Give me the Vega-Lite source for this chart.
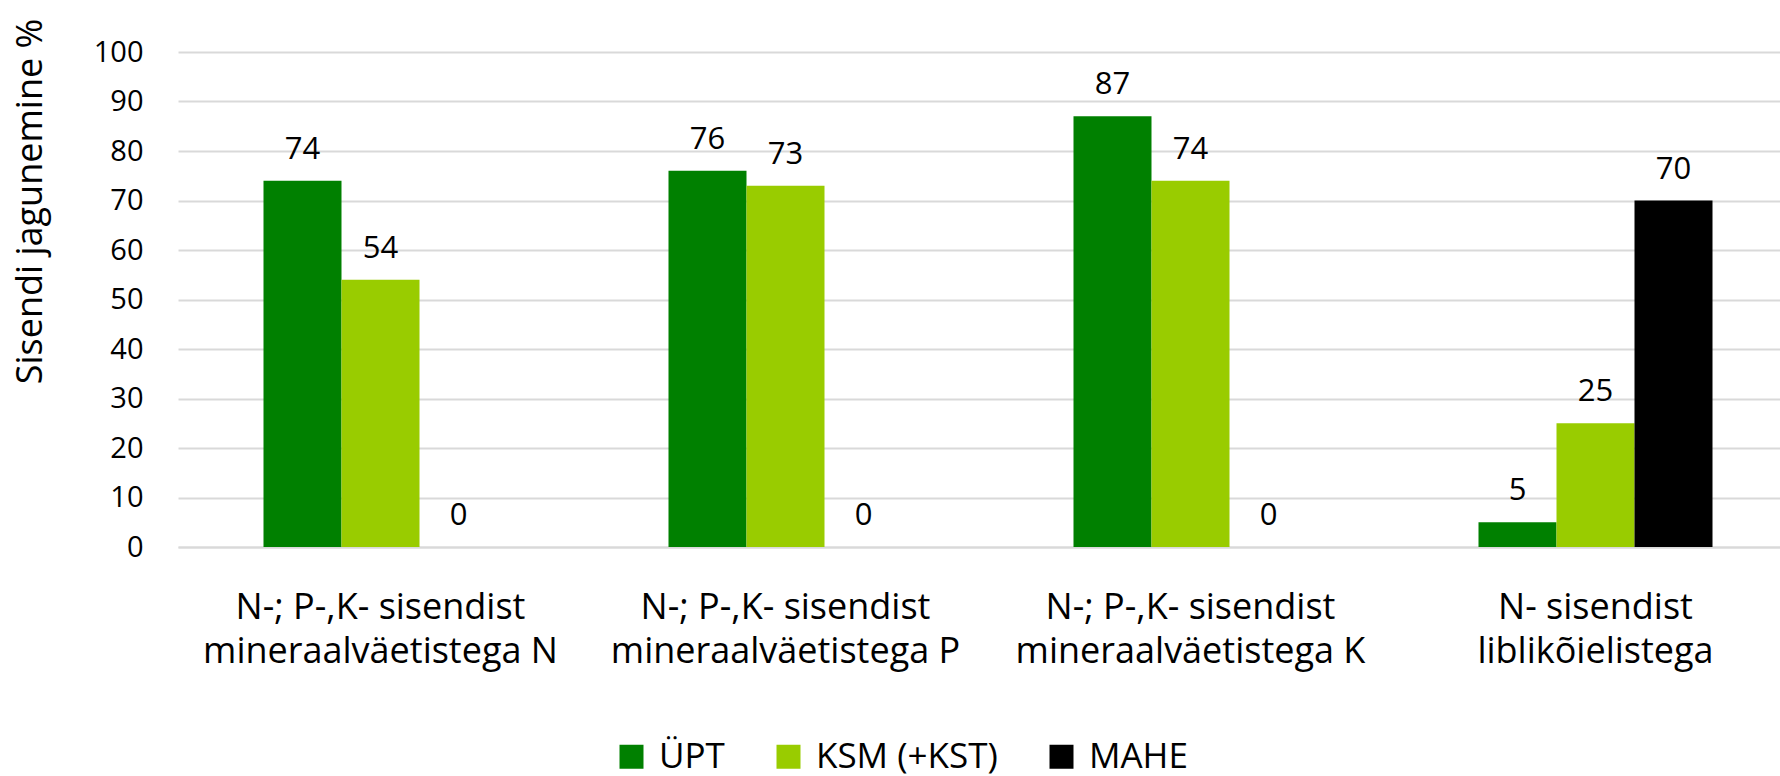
{
  "$schema": "https://vega.github.io/schema/vega-lite/v6.json",
  "width": 1602,
  "height": 495,
  "autosize": {"type": "none"},
  "padding": {"left": 178, "top": 52, "right": 0, "bottom": 229},
  "background": "white",
  "config": {"view": {"stroke": null}, "font": "Open Sans"},
  "data": {
    "values": [
      {"kategooria": "N-; P-,K- sisendist|mineraalväetistega N", "grupp": "ÜPT", "vaartus": 74},
      {"kategooria": "N-; P-,K- sisendist|mineraalväetistega N", "grupp": "KSM (+KST)", "vaartus": 54},
      {"kategooria": "N-; P-,K- sisendist|mineraalväetistega N", "grupp": "MAHE", "vaartus": 0},
      {"kategooria": "N-; P-,K- sisendist|mineraalväetistega P", "grupp": "ÜPT", "vaartus": 76},
      {"kategooria": "N-; P-,K- sisendist|mineraalväetistega P", "grupp": "KSM (+KST)", "vaartus": 73},
      {"kategooria": "N-; P-,K- sisendist|mineraalväetistega P", "grupp": "MAHE", "vaartus": 0},
      {"kategooria": "N-; P-,K- sisendist|mineraalväetistega K", "grupp": "ÜPT", "vaartus": 87},
      {"kategooria": "N-; P-,K- sisendist|mineraalväetistega K", "grupp": "KSM (+KST)", "vaartus": 74},
      {"kategooria": "N-; P-,K- sisendist|mineraalväetistega K", "grupp": "MAHE", "vaartus": 0},
      {"kategooria": "N- sisendist|liblikõielistega", "grupp": "ÜPT", "vaartus": 5},
      {"kategooria": "N- sisendist|liblikõielistega", "grupp": "KSM (+KST)", "vaartus": 25},
      {"kategooria": "N- sisendist|liblikõielistega", "grupp": "MAHE", "vaartus": 70}
    ]
  },
  "encoding": {
    "x": {
      "field": "kategooria",
      "type": "nominal",
      "sort": null,
      "scale": {"range": [0, 1620], "paddingInner": 0.4222, "paddingOuter": 0.2111},
      "axis": {
        "title": null,
        "labelExpr": "split(datum.label, '|')",
        "labelFontSize": 36,
        "labelLineHeight": 44,
        "labelPadding": 43,
        "labelAngle": 0,
        "labelBaseline": "top",
        "labelColor": "black",
        "labelLimit": 600,
        "ticks": false,
        "domain": true,
        "domainColor": "#d9d9d9",
        "domainWidth": 2
      }
    },
    "xOffset": {
      "field": "grupp",
      "type": "nominal",
      "sort": ["ÜPT", "KSM (+KST)", "MAHE"],
      "scale": {"paddingInner": 0, "paddingOuter": 0}
    },
    "y": {
      "field": "vaartus",
      "type": "quantitative",
      "scale": {"domain": [0, 100]},
      "axis": {
        "title": "Sisendi jagunemine %",
        "values": [0, 10, 20, 30, 40, 50, 60, 70, 80, 90, 100],
        "grid": true,
        "gridColor": "#d9d9d9",
        "gridWidth": 2,
        "domain": false,
        "ticks": false,
        "labelFontSize": 29,
        "labelPadding": 35,
        "labelColor": "black",
        "titleFontSize": 36,
        "titleFontWeight": "normal",
        "titleColor": "black",
        "titleX": -137,
        "titleY": 149,
        "titleAngle": -90,
        "titleAlign": "center",
        "titleBaseline": "alphabetic"
      }
    }
  },
  "layer": [
    {
      "mark": {"type": "bar"},
      "encoding": {
        "color": {
          "field": "grupp",
          "type": "nominal",
          "scale": {"domain": ["ÜPT", "KSM (+KST)", "MAHE"], "range": ["#008000", "#99cc00", "#000000"]},
          "legend": {
            "orient": "none",
            "legendX": 436,
            "legendY": 687,
            "direction": "horizontal",
            "title": null,
            "symbolType": "square",
            "symbolSize": 576,
            "symbolStrokeWidth": 0,
            "symbolOpacity": 1,
            "labelFontSize": 35,
            "labelOffset": 10,
            "labelColor": "black",
            "labelLimit": 600,
            "columnPadding": 46,
            "padding": 0
          }
        }
      }
    },
    {
      "mark": {"type": "text", "dy": -22, "baseline": "alphabetic", "fontSize": 31, "color": "black"},
      "encoding": {"text": {"field": "vaartus", "type": "quantitative"}}
    }
  ]
}
